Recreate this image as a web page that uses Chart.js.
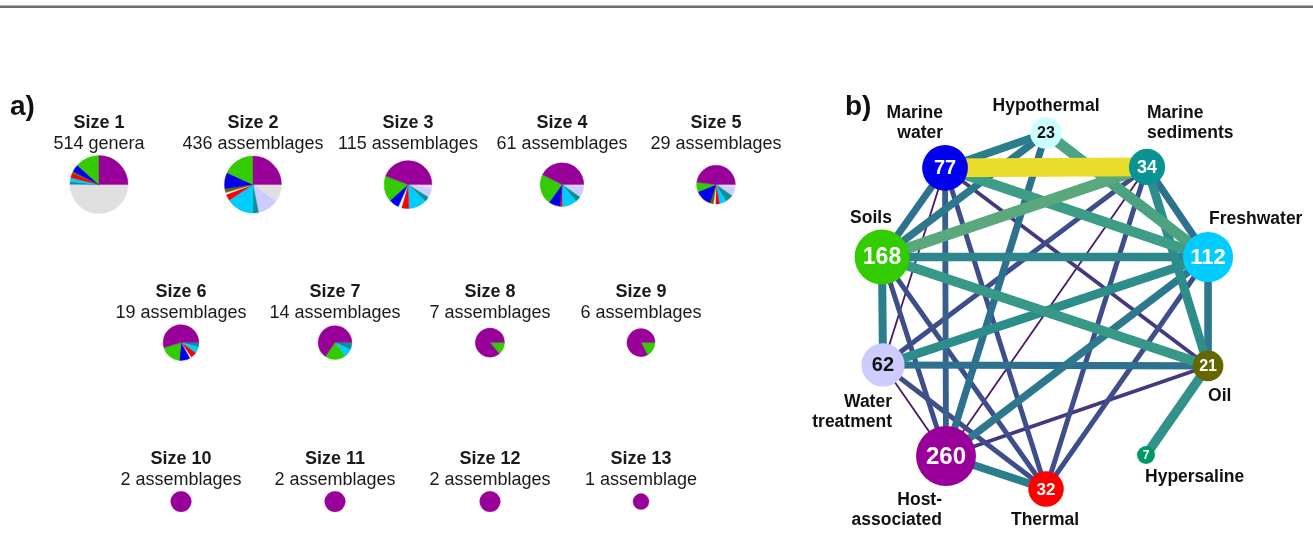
<!DOCTYPE html>
<html>
<head>
<meta charset="utf-8">
<script src="https://cdn.jsdelivr.net/npm/chart.js@4.4.1/dist/chart.umd.min.js"></script>
<style>
  html, body { margin: 0; padding: 0; background: #fff; }
  body { width: 1313px; height: 535px; position: relative; overflow: hidden;
         font-family: 'Liberation Sans', Arial, sans-serif; }
  .rule { position: absolute; left: 0; top: 5px; width: 1313px; height: 0;
          border-top: 1px solid #b4b4b4; border-bottom: 2px solid #6e6e6e; }
  .tag { position: absolute; font-weight: bold; font-size: 28px; line-height: 1; color: #111; z-index: 2; }
  canvas { position: absolute; }
</style>
</head>
<body>
<div class="rule"></div>
<div class="tag" style="left:10px;top:92px">a)</div>
<div class="tag" style="left:845px;top:92px">b)</div>
<canvas id="network" width="523" height="450" style="left:790px;top:85px"></canvas>

<script>
// ---------- environments (slice order runs clockwise from 3 o'clock) ----------
const environments = ['Unassigned', 'Water treatment', 'Marine sediments', 'Freshwater', 'Thermal',
  'Hypothermal', 'Hypersaline', 'Oil', 'Marine water', 'Soils', 'Host-associated'];
const envColors = ['#e0e0e0', '#ccccff', '#0a9393', '#00ccff', '#ff0000',
  '#ccffff', '#009966', '#666600', '#0000ee', '#33cc00', '#990099'];

// ---------- panel a: assemblage size classes ----------
const assemblageSizes = [1, 2, 3, 4, 5, 6, 7, 8, 9, 10, 11, 12, 13];
const assemblageCounts = [514, 436, 115, 61, 29, 19, 14, 7, 6, 2, 2, 2, 1];
const countNouns = ['genera', 'assemblages', 'assemblages', 'assemblages', 'assemblages', 'assemblages',
  'assemblages', 'assemblages', 'assemblages', 'assemblages', 'assemblages', 'assemblages', 'assemblage'];
// share (%) of each environment within a size class, same order as `environments`
const envShares = [
  [49.4, 0.8, 1.4, 2.2, 2.5, 0, 0, 1.1, 4.2, 13.3, 25.0],
  [10.0, 11.9, 3.1, 15.8, 3.6, 1.1, 0, 2.2, 9.2, 18.1, 25.0],
  [2.8, 6.1, 3.3, 12.2, 5.0, 2.2, 0, 0, 6.9, 17.2, 44.2],
  [1.9, 7.8, 4.2, 11.1, 1.4, 0, 0, 0, 8.6, 22.5, 42.5],
  [2.8, 6.9, 6.9, 5.6, 3.3, 1.7, 0, 2.8, 13.9, 8.1, 48.0],
  [0, 0, 4.2, 5.6, 5.6, 1.4, 0, 0, 9.7, 18.9, 54.7],
  [0, 0, 6.9, 7.8, 0, 0, 0, 0, 0, 20.0, 65.3],
  [0, 0, 0, 0, 0, 0, 0, 0, 0, 13.9, 86.1],
  [0, 0, 0, 0, 0, 0, 0, 0, 0, 17.2, 82.8],
  [0, 0, 0, 0, 0, 0, 0, 0, 0, 0, 100],
  [0, 0, 0, 0, 0, 0, 0, 0, 0, 0, 100],
  [0, 0, 0, 0, 0, 0, 0, 0, 0, 0, 100],
  [0, 0, 0, 0, 0, 0, 0, 0, 0, 0, 100]
];

// ---------- panel b: environment network ----------
const nodeNames = ['Marine water', 'Hypothermal', 'Marine sediments', 'Soils', 'Freshwater',
  'Water treatment', 'Oil', 'Hypersaline', 'Host-associated', 'Thermal'];
const nodeGenera = [77, 23, 34, 168, 112, 62, 21, 7, 260, 32];
// layout coordinates of the network
const nodeX = [-0.612, 0, 0.612, -0.994, 0.982, -0.988, 0.982, 0.606, -0.606, 0];
const nodeY = [0.867, 1.079, 0.873, 0.327, 0.327, -0.327, -0.333, -0.873, -0.879, -1.079];
// links between environments and the number of shared genera
const edgeFrom = ['Marine water', 'Soils', 'Hypothermal', 'Marine water', 'Soils', 'Oil', 'Water treatment',
  'Marine sediments', 'Soils', 'Soils', 'Host-associated', 'Hypothermal', 'Freshwater', 'Freshwater',
  'Soils', 'Water treatment', 'Marine sediments', 'Hypothermal', 'Marine water', 'Marine water',
  'Marine water', 'Soils', 'Soils', 'Water treatment', 'Marine sediments', 'Freshwater', 'Water treatment',
  'Marine water', 'Host-associated', 'Marine water', 'Water treatment', 'Marine sediments'];
const edgeTo = ['Marine sediments', 'Marine sediments', 'Freshwater', 'Freshwater', 'Oil', 'Hypersaline', 'Freshwater',
  'Oil', 'Freshwater', 'Water treatment', 'Thermal', 'Marine water', 'Oil', 'Host-associated',
  'Hypothermal', 'Oil', 'Freshwater', 'Host-associated', 'Soils', 'Host-associated',
  'Thermal', 'Host-associated', 'Thermal', 'Thermal', 'Thermal', 'Thermal', 'Marine sediments',
  'Oil', 'Oil', 'Water treatment', 'Host-associated', 'Host-associated'];
const edgeShared = [40, 24, 23, 22, 21, 20, 19, 19, 18, 17, 17, 17, 16, 16,
  16, 15, 15, 15, 15, 12, 10, 10, 10, 10, 10, 10, 10, 7, 7, 2, 2, 2];

Chart.defaults.font.family = "'Liberation Sans', Arial, sans-serif";
Chart.defaults.color = '#1a1a1a';

const pieRadius = n => 8 + 3.37 * Math.log(n);
const nodeRadius = n => 5.82 * Math.log(n) - 2.4;

// ---------- panel a drawing ----------
const pieRows = [
  { titleY: 123, centerY: 185, xs: [99, 253, 408, 562, 716] },
  { titleY: 292, centerY: 343, xs: [181, 335, 490, 641] },
  { titleY: 459, centerY: 502, xs: [181, 335, 490, 641] }
];
let k = 0;
pieRows.forEach(row => {
  row.xs.forEach(cx => {
    const i = k++;
    const cv = document.createElement('canvas');
    const w = 170;
    const top = row.titleY - 10.8;
    const areaH = 2 * (row.centerY - row.titleY - 32.4);
    cv.width = w;
    cv.height = Math.round(43.2 + areaH);
    cv.style.left = (cx - w / 2) + 'px';
    cv.style.top = top + 'px';
    document.body.appendChild(cv);
    new Chart(cv, {
      type: 'pie',
      data: {
        labels: environments,
        datasets: [{
          data: envShares[i],
          backgroundColor: envColors,
          borderColor: envColors,
          borderWidth: 0.4,
          radius: pieRadius(assemblageCounts[i]),
          hoverOffset: 0
        }]
      },
      options: {
        responsive: false, animation: false, devicePixelRatio: 1, events: [],
        rotation: 90,
        layout: { padding: 0 },
        plugins: {
          legend: { display: false },
          tooltip: { enabled: false },
          title: { display: true, text: 'Size ' + assemblageSizes[i], color: '#1a1a1a',
                   font: { size: 18, weight: 'bold', lineHeight: 1.2 }, padding: 0 },
          subtitle: { display: true, text: assemblageCounts[i] + ' ' + countNouns[i], color: '#1a1a1a',
                      font: { size: 18, weight: 'normal', lineHeight: 1.2 }, padding: 0 }
        }
      }
    });
  });
});

// ---------- panel b drawing ----------
const rampStops = [
  [0, '#4a125f'], [0.05, '#4a1a6a'], [0.175, '#45387f'], [0.25, '#3e4e8a'], [0.3, '#37608c'],
  [0.375, '#2e718e'], [0.425, '#2b7f8c'], [0.475, '#2c8d8a'], [0.55, '#3d9d87'], [0.6, '#5aa87c'],
  [1, '#ebdd2b']
];
function hexToRgb(h) { return [1, 3, 5].map(p => parseInt(h.slice(p, p + 2), 16)); }
function rampColor(t) {
  for (let s = 1; s < rampStops.length; s++) {
    if (t <= rampStops[s][0]) {
      const [t0, c0] = rampStops[s - 1], [t1, c1] = rampStops[s];
      const f = (t - t0) / (t1 - t0);
      const a = hexToRgb(c0), b = hexToRgb(c1);
      return 'rgb(' + a.map((v, j) => Math.round(v + (b[j] - v) * f)).join(',') + ')';
    }
  }
  return rampStops[rampStops.length - 1][1];
}
const maxShared = Math.max(...edgeShared);
const nodeIndex = name => nodeNames.indexOf(name);
const nodeColor = name => envColors[environments.indexOf(name)];

const edgeSets = edgeShared.map((s, e) => {
  const a = nodeIndex(edgeFrom[e]), b = nodeIndex(edgeTo[e]);
  const t = s / maxShared;
  return {
    type: 'scatter',
    data: [{ x: nodeX[a], y: nodeY[a] }, { x: nodeX[b], y: nodeY[b] }],
    showLine: true,
    borderColor: rampColor(t),
    borderWidth: 1.2 + 17.5 * Math.pow(t, 1.1),
    pointRadius: 0, pointHoverRadius: 0,
    order: 100 - s,
    clip: false
  };
});
const nodeSet = {
  type: 'bubble',
  data: nodeNames.map((n, i) => ({ x: nodeX[i], y: nodeY[i], r: nodeRadius(nodeGenera[i]) })),
  backgroundColor: nodeNames.map(nodeColor),
  borderWidth: 0, hoverRadius: 0,
  order: 0,
  clip: false
};

// label text, alignment and offsets (px) from each node centre
const nameLines = [['Marine', 'water'], ['Hypothermal'], ['Marine', 'sediments'], ['Soils'], ['Freshwater'],
  ['Water', 'treatment'], ['Oil'], ['Hypersaline'], ['Host-', 'associated'], ['Thermal']];
const namePlacement = [
  { align: 'right', dx: -2, dy: -55 }, { align: 'center', dx: 0, dy: -27 },
  { align: 'left', dx: 0, dy: -54 }, { align: 'center', dx: -11, dy: -39 },
  { align: 'left', dx: 1, dy: -38 }, { align: 'right', dx: 9, dy: 37 },
  { align: 'left', dx: 0, dy: 30 }, { align: 'left', dx: -1, dy: 22 },
  { align: 'right', dx: -4, dy: 44 }, { align: 'center', dx: -1, dy: 31 }
];
const darkText = ['Hypothermal', 'Water treatment'];

const nodeLabels = {
  id: 'nodeLabels',
  afterDatasetsDraw(chart) {
    const ctx = chart.ctx;
    const xs = chart.scales.x, ys = chart.scales.y;
    nodeNames.forEach((name, i) => {
      const px = xs.getPixelForValue(nodeX[i]);
      const py = ys.getPixelForValue(nodeY[i]);
      const r = nodeRadius(nodeGenera[i]);
      ctx.save();
      ctx.textAlign = 'center';
      ctx.textBaseline = 'middle';
      ctx.fillStyle = darkText.includes(name) ? '#111' : '#fff';
      ctx.font = 'bold ' + Math.round(7 + 0.58 * r) + "px 'Liberation Sans', Arial, sans-serif";
      ctx.fillText(String(nodeGenera[i]), px, py + 1);
      const p = namePlacement[i];
      ctx.fillStyle = '#111';
      ctx.textAlign = p.align;
      ctx.font = "bold 17.5px 'Liberation Sans', Arial, sans-serif";
      nameLines[i].forEach((line, j) => ctx.fillText(line, px + p.dx, py + p.dy + j * 20.5));
      ctx.restore();
    });
  }
};

new Chart(document.getElementById('network'), {
  type: 'scatter',
  data: { datasets: [...edgeSets, nodeSet] },
  options: {
    responsive: false, animation: false, devicePixelRatio: 1, events: [],
    layout: { padding: 0, autoPadding: false },
    scales: {
      x: { type: 'linear', min: -1.5515, max: 1.618, display: false },
      y: { type: 'linear', min: -1.3576, max: 1.3697, display: false }
    },
    plugins: { legend: { display: false }, tooltip: { enabled: false } }
  },
  plugins: [nodeLabels]
});
</script>
</body>
</html>
